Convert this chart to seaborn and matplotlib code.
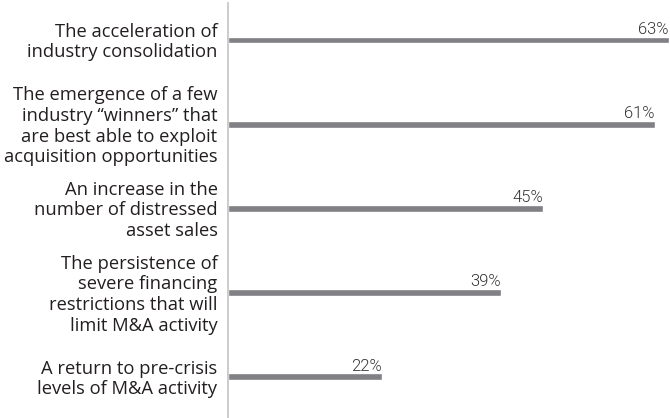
import matplotlib
matplotlib.use("Agg")
import matplotlib.pyplot as plt
import seaborn as sns
import pandas as pd

categories = [
    "The acceleration of\nindustry consolidation",
    "The emergence of a few\nindustry \u201cwinners\u201d that\nare best able to exploit\nacquisition opportunities",
    "An increase in the\nnumber of distressed\nasset sales",
    "The persistence of\nsevere financing\nrestrictions that will\nlimit M&A activity",
    "A return to pre-crisis\nlevels of M&A activity",
]
values = [63, 61, 45, 39, 22]

df = pd.DataFrame({"outcome": categories, "share": values})

sns.set_theme(style="white")
plt.rcParams["font.family"] = ["Open Sans", "DejaVu Sans"]

fig = plt.figure(figsize=(6.7, 4.18), dpi=100)
ax = fig.add_axes([228 / 670, 0.0, 1 - 228 / 670, 1 - 3 / 418])

sns.barplot(data=df, y="outcome", x="share", orient="h", color="#808085",
            saturation=1, width=0.08, ax=ax)

ax.set_xlim(0, 63.15)
ax.set_ylim(4.49, -0.44)
ax.set_xlabel("")
ax.set_ylabel("")
ax.set_xticks([])
ax.tick_params(axis="y", length=0, labelleft=False)

for s in ["top", "right", "bottom"]:
    ax.spines[s].set_visible(False)
ax.spines["left"].set_color("#c8c8c8")
ax.spines["left"].set_linewidth(1.3)

# category labels, right-aligned against the axis line
for i, cat in enumerate(categories):
    ax.annotate(cat, xy=(0, i), xytext=(-7.5, -1.5), textcoords="offset points",
                ha="right", va="center", multialignment="right",
                fontsize=13.2, color="#231f20", fontweight=500, linespacing=1.19,
                annotation_clip=False)

# value labels sitting on the bar ends
for i, v in enumerate(values):
    ax.annotate(f"{v}%", xy=(v, i), xytext=(0, 4.5), textcoords="offset points",
                ha="right", va="baseline", fontsize=12, color="#333333",
                family=["Roboto", "DejaVu Sans"], fontweight=300)

fig.savefig("out.png", dpi=100)
